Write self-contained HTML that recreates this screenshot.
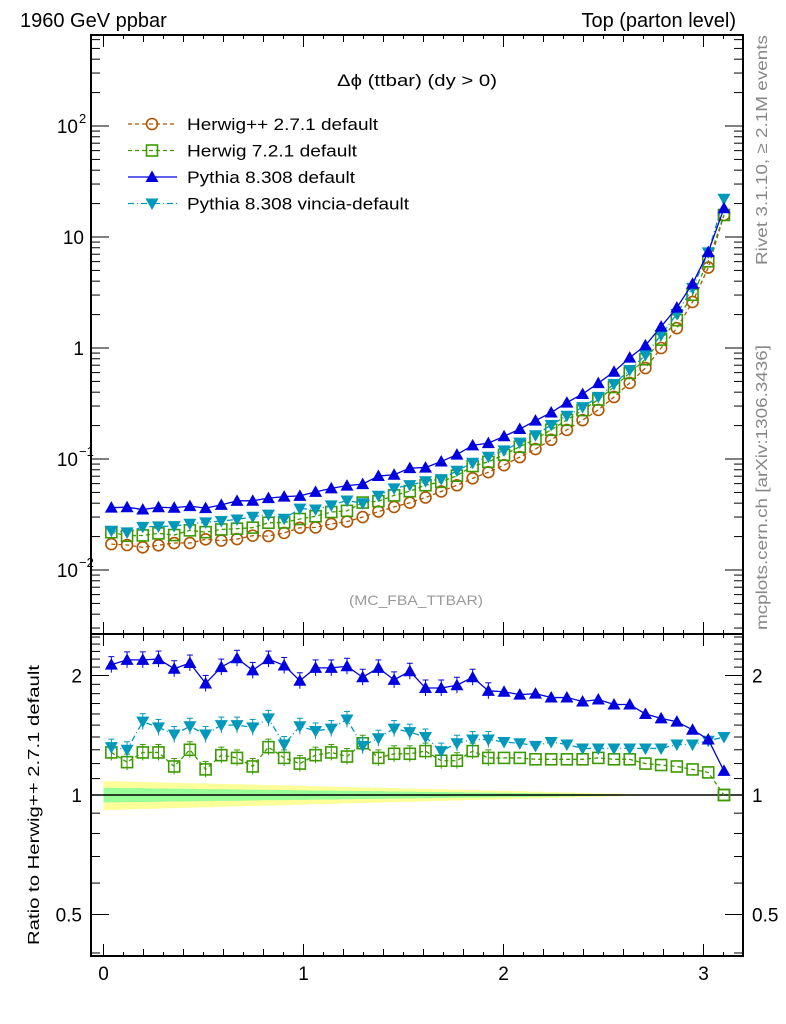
<!DOCTYPE html>
<html><head><meta charset="utf-8"><style>
html,body{margin:0;padding:0;background:#fff;}
svg{display:block;font-family:"Liberation Sans",sans-serif;}
</style></head><body>
<svg id="c" width="786" height="1024" viewBox="0 0 786 1024" xmlns="http://www.w3.org/2000/svg">
<text x="20" y="27" font-size="20">1960 GeV ppbar</text>
<text x="736" y="27" font-size="20" text-anchor="end">Top (parton level)</text>
<text x="337" y="86" font-size="17" textLength="160" lengthAdjust="spacingAndGlyphs">Δϕ (ttbar) (dy &gt; 0)</text>
<text x="349" y="605" font-size="14" fill="#999" textLength="134" lengthAdjust="spacingAndGlyphs">(MC_FBA_TTBAR)</text>
<text transform="translate(767,265) rotate(-90)" font-size="16" fill="#888" textLength="230" lengthAdjust="spacingAndGlyphs">Rivet 3.1.10, ≥ 2.1M events</text>
<text transform="translate(767,630) rotate(-90)" font-size="16" fill="#888" textLength="285" lengthAdjust="spacingAndGlyphs">mcplots.cern.ch [arXiv:1306.3436]</text>
<text transform="translate(39,945) rotate(-90)" font-size="16" textLength="280" lengthAdjust="spacingAndGlyphs">Ratio to Herwig++ 2.7.1 default</text>
<g id="g"></g>
</svg>
<script>
const centers = [];
const herwigpp = [0.0171,0.0168,0.016,0.0167,0.0175,0.0175,0.0189,0.0184,0.019,0.0204,0.0202,0.0216,0.024,0.0242,0.026,0.0273,0.030,0.0336,0.037,0.0404,0.045,0.051,0.058,0.067,0.076,0.088,0.104,0.123,0.149,0.183,0.224,0.277,0.362,0.484,0.66,1.0,1.51,2.6,5.3,15.8];
const ratioH7 = [1.28,1.21,1.28,1.28,1.18,1.30,1.16,1.26,1.24,1.18,1.32,1.24,1.20,1.26,1.28,1.25,1.35,1.24,1.27,1.27,1.29,1.22,1.22,1.29,1.24,1.24,1.24,1.23,1.23,1.23,1.23,1.24,1.23,1.23,1.20,1.19,1.18,1.16,1.14,1.0];
const ratioPy = [2.13,2.19,2.19,2.20,2.08,2.15,1.91,2.10,2.21,2.06,2.20,2.12,1.94,2.09,2.09,2.11,1.98,2.09,1.95,2.05,1.86,1.86,1.89,1.98,1.83,1.82,1.79,1.80,1.76,1.76,1.72,1.74,1.69,1.69,1.60,1.56,1.53,1.46,1.38,1.15];
const ratioVi = [1.32,1.30,1.53,1.48,1.42,1.49,1.42,1.50,1.50,1.48,1.56,1.34,1.49,1.45,1.47,1.55,1.33,1.39,1.47,1.44,1.40,1.29,1.35,1.38,1.38,1.36,1.35,1.33,1.36,1.34,1.31,1.31,1.31,1.31,1.31,1.31,1.34,1.34,1.37,1.40];
const xTicks = [0,1,2,3];
for (let i=0;i<40;i++) centers.push((i+0.5)*Math.PI/40);

const NS="http://www.w3.org/2000/svg";
const g=document.getElementById('g');
function el(tag,attrs,parent){const e=document.createElementNS(NS,tag);for(const k in attrs)e.setAttribute(k,attrs[k]);(parent||g).appendChild(e);return e;}
const L=91,R=743,T=35,MB=634,RB=956;
const X=v=>103.5+200*v;
const Ym=v=>348-111*Math.log10(v);
const Yr=v=>795-119.5*Math.log2(v);

// band
let up1='',dn1='',up2='',dn2='';
for(let i=0;i<40;i++){const f=Math.max(0,1-i/34);const x0=X(i*Math.PI/40),x1=X((i+1)*Math.PI/40);
 const a=0.08*f+0.003,b=0.04*f+0.002;
 up1+=`${x0},${Yr(1+a)} ${x1},${Yr(1+a)} `;dn1=`${x1},${Yr(1-a)} ${x0},${Yr(1-a)} `+dn1;
 up2+=`${x0},${Yr(1+b)} ${x1},${Yr(1+b)} `;dn2=`${x1},${Yr(1-b)} ${x0},${Yr(1-b)} `+dn2;}
let p=el('polygon',{points:up1+dn1,fill:'#ffff99'});


p=el('polygon',{points:up2+dn2,fill:'#99ff99'});


el('line',{x1:L,x2:R,y1:Yr(1),y2:Yr(1),stroke:'#000','stroke-width':1.5});

// frames
let f=el('rect',{x:L,y:T,width:R-L,height:MB-T,fill:'none',stroke:'#000','stroke-width':2});


f=el('rect',{x:L,y:MB,width:R-L,height:RB-MB,fill:'none',stroke:'#000','stroke-width':2});



// x ticks
for(let k=0;k<=31;k++){const v=k/10;const x=X(v);if(x>R)break;const maj=k%10==0;const len=maj?12:(k%2==0?7:4);
 for(const [y,d] of [[MB,-1],[RB,-1],[T,1],[MB,1]]){el('line',{x1:x,x2:x,y1:y,y2:y+d*len,stroke:'#000','stroke-width':1});}}
xTicks.forEach(v=>{const t=el('text',{x:X(v),y:980,'font-size':19,'text-anchor':'middle'});t.textContent=v;
 
 });

// main y ticks
for(let e=-3;e<=2;e++){for(let m=1;m<10;m++){const v=m*Math.pow(10,e);const y=Ym(v);if(y<T||y>MB)continue;const len=m==1?18:9;
 el('line',{x1:L,x2:L+len,y1:y,y2:y,stroke:'#000'});el('line',{x1:R,x2:R-len,y1:y,y2:y,stroke:'#000'});}}
const mlab=[[1e-2,'10',-2],[0.1,'10',-1],[1,'1'],[10,'10'],[100,'10',2]];
mlab.forEach(([v,s,ex])=>{const t=el('text',{x:ex!==undefined?78:84,y:Ym(v)+7,'font-size':19,'text-anchor':'end'});t.textContent=s;
 
 
 if(ex!==undefined){const s2=el('text',{x:79,y:Ym(v)-3,'font-size':13});s2.textContent=ex<0?('−'+(-ex)):ex;
 
 }});

// ratio y ticks
[0.4,0.5,0.6,0.7,0.8,0.9,1,1.1,1.2,1.3,1.4,1.5,1.6,1.7,1.8,1.9,2,2.1,2.2,2.3,2.4,2.5].forEach(v=>{const y=Yr(v);if(y<MB||y>RB)return;const maj=(v==0.5||v==1||v==2);const len=maj?18:9;
 el('line',{x1:L,x2:L+len,y1:y,y2:y,stroke:'#000'});el('line',{x1:R,x2:R-len,y1:y,y2:y,stroke:'#000'});});
[[0.5,'0.5'],[1,'1'],[2,'2']].forEach(([v,s])=>{for(const [x,a] of [[82,'end'],[752,'start']]){const t=el('text',{x:x,y:Yr(v)+7,'font-size':19,'text-anchor':a});t.textContent=s;
 
 }});

// markers
function marker(type,x,y,col,parent){
 if(type=='c')el('circle',{cx:x,cy:y,r:5.5,fill:'none',stroke:col,'stroke-width':1.6},parent);
 else if(type=='s')el('rect',{x:x-5.5,y:y-5.5,width:11,height:11,fill:'none',stroke:col,'stroke-width':1.6},parent);
 else if(type=='u')el('polygon',{points:`${x},${y-6.5} ${x+6.5},${y+5} ${x-6.5},${y+5}`,fill:col},parent);
 else el('polygon',{points:`${x},${y+6.5} ${x+6.5},${y-5} ${x-6.5},${y-5}`,fill:col},parent);}
const series=[
 {name:'herwigpp',ratio:herwigpp.map(()=>1),col:'#b25400',m:'c',dash:'4,3'},
 {name:'herwig7',ratio:ratioH7,col:'#3c9a00',m:'s',dash:'4,3'},
 {name:'pythia-vincia',ratio:ratioVi,col:'#0099bb',m:'d',dash:'6,3,1,3'},
 {name:'pythia',ratio:ratioPy,col:'#0000e0',m:'u',dash:''}];
series.forEach(s=>{
 const gm=el('g',{});
 
 const pts=centers.map((c,i)=>[X(c),Ym(herwigpp[i]*s.ratio[i])]);
 el('polyline',{points:pts.map(p=>p.join(',')).join(' '),fill:'none',stroke:s.col,'stroke-width':1.3,'stroke-dasharray':s.dash},gm);
 pts.forEach(p=>marker(s.m,p[0],p[1],s.col,gm));
 if(s.name=='herwigpp')return;
 const gr=el('g',{});
 
 const rp=centers.map((c,i)=>[X(c),Yr(s.ratio[i])]);
 el('polyline',{points:rp.map(p=>p.join(',')).join(' '),fill:'none',stroke:s.col,'stroke-width':1.3,'stroke-dasharray':s.dash},gr);
 rp.forEach((p,i)=>{if(i<25){el('line',{x1:p[0],x2:p[0],y1:p[1]-8,y2:p[1]+8,stroke:s.col},gr);el('line',{x1:p[0]-3,x2:p[0]+3,y1:p[1]-8,y2:p[1]-8,stroke:s.col},gr);}marker(s.m,p[0],p[1],s.col,gr);});
});
marker('s',X(centers[39]),Yr(ratioH7[39]),'#3c9a00');

// legend
const leg=[['Herwig++ 2.7.1 default','#b25400','c','4,3',191],['Herwig 7.2.1 default','#3c9a00','s','4,3',170],['Pythia 8.308 default','#0000e0','u','',168],['Pythia 8.308 vincia-default','#0099bb','d','6,3,1,3',222]];
leg.forEach((l,i)=>{const y=124+i*26.5;const lg=el('g',{});
 
 el('line',{x1:128,x2:177,y1:y,y2:y,stroke:l[1],'stroke-width':1.3,'stroke-dasharray':l[3]},lg);
 marker(l[2],152,y,l[1],lg);
 const t=el('text',{x:187,y:y+6,'font-size':17,textLength:l[4],lengthAdjust:'spacingAndGlyphs'},lg);t.textContent=l[0];});
</script>
</body></html>
